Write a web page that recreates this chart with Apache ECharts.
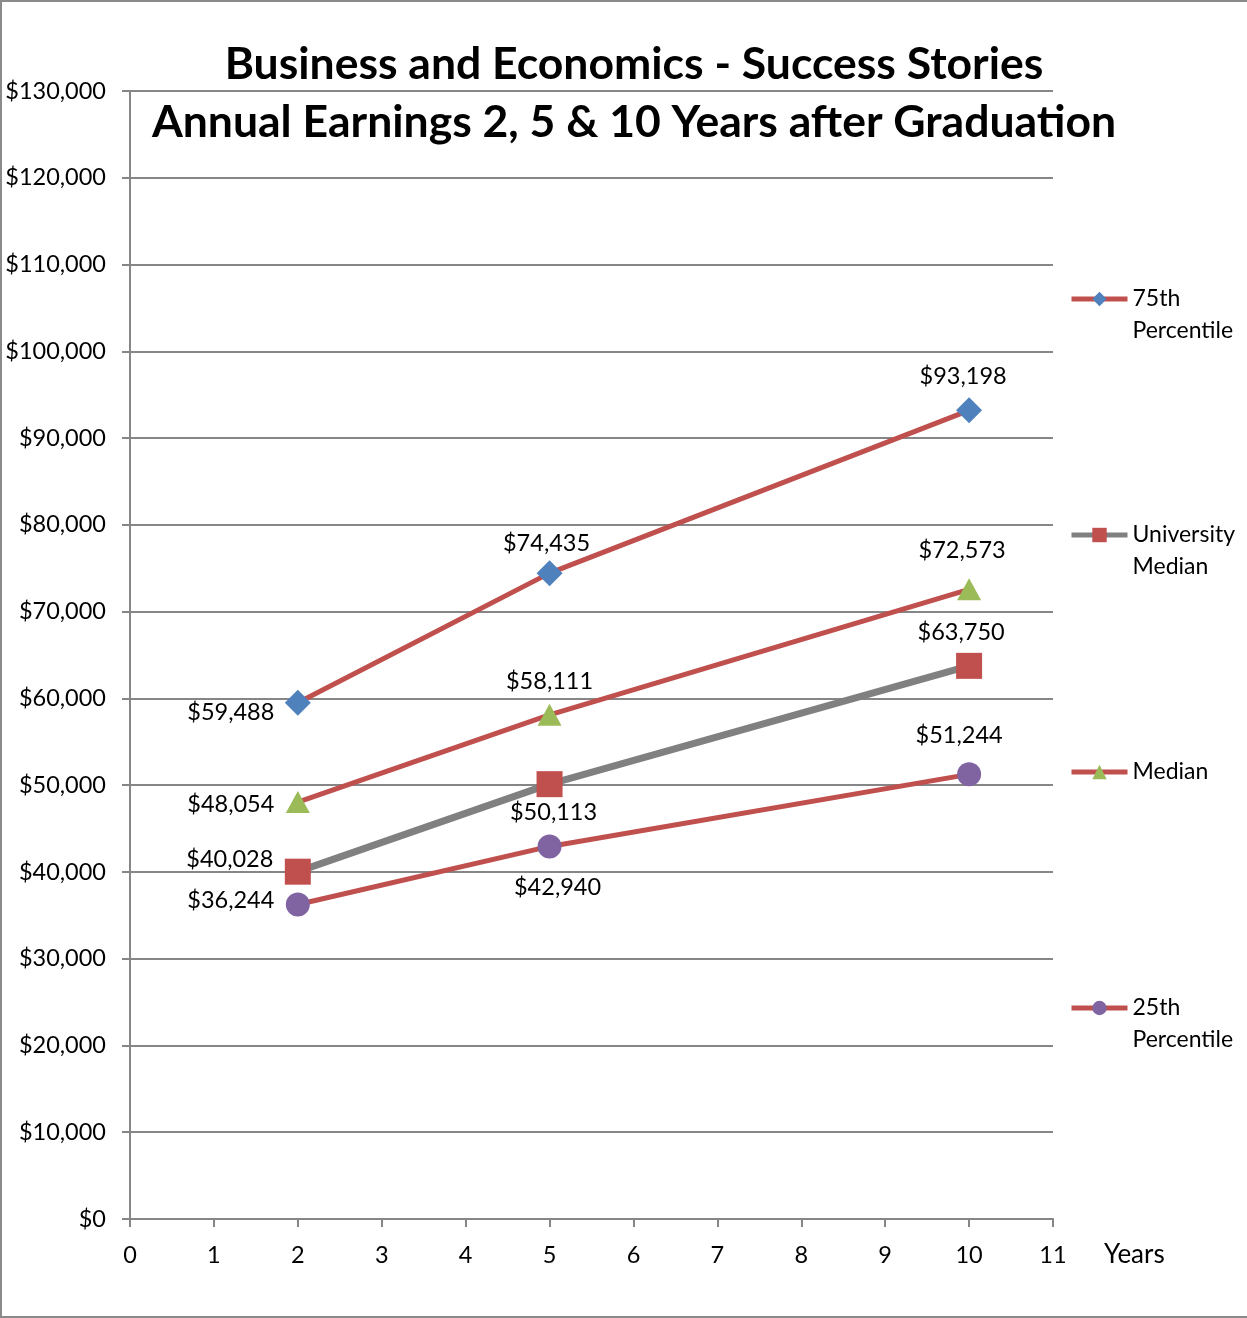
<!DOCTYPE html>
<html><head><meta charset="utf-8">
<script src="https://cdn.jsdelivr.net/npm/echarts@6/dist/echarts.min.js"></script>
<style>
html,body{margin:0;padding:0;background:#fff;}
#wrap{position:relative;width:1247px;height:1318px;box-sizing:border-box;border-left:2px solid #8a8a8a;border-top:2px solid #8a8a8a;border-bottom:2px solid #8a8a8a;}
#main{position:absolute;left:-2px;top:-2px;width:1247px;height:1318px;}
</style></head>
<body><div id="wrap"><div id="main"></div></div>
<script>
const titleLines = ['Business and Economics - Success Stories', 'Annual Earnings 2, 5 & 10 Years after Graduation'];
const years = [2, 5, 10];
const seriesNames = ['75th Percentile', 'University Median', 'Median', '25th Percentile'];
const p75 = [59488, 74435, 93198];
const uniMedian = [40028, 50113, 63750];
const median = [48054, 58111, 72573];
const p25 = [36244, 42940, 51244];
const xAxisName = 'Years';

const FONT = 'Lato, "Open Sans", sans-serif';
const fmt = v => '$' + Math.round(v).toString().replace(/\B(?=(\d{3})+(?!\d))/g, ',');

const styles = [
  {data: p75, line: '#C0504D', width: 5, symbol: 'diamond', size: [26, 26], mark: '#4F81BD',
   offs: [[-67, 10], [-3, -30], [-6, -34]]},
  {data: uniMedian, line: '#808080', width: 7, symbol: 'rect', size: [26, 26], mark: '#C0504D',
   offs: [[-68, -12], [4, 28], [-8, -33]]},
  {data: median, line: '#C0504D', width: 5, symbol: 'triangle', size: [24, 22], mark: '#9BBB59',
   offs: [[-67, 2], [0, -33], [-7, -39]]},
  {data: p25, line: '#C0504D', width: 5, symbol: 'circle', size: [24, 24], mark: '#8064A2',
   offs: [[-67, -4], [8, 41], [-10, -39]]}
];

const series = styles.map((s, i) => ({
  name: seriesNames[i],
  type: 'line',
  symbol: s.symbol,
  symbolSize: s.size,
  z: i === 1 ? 2 : 3,
  lineStyle: {color: s.line, width: s.width},
  itemStyle: {color: s.mark},
  emphasis: {disabled: true},
  animation: false,
  data: years.map((x, j) => ({
    value: [x, s.data[j]],
    label: {show: true, position: 'inside', offset: s.offs[j], formatter: p => fmt(p.value[1]),
      color: '#000', fontSize: 23.5, fontFamily: FONT}
  }))
}));

const iconYs = [299, 535, 772, 1008];
const legendTexts = ['\n75th\nPercentile', '\nUniversity\nMedian', 'Median', '\n25th\nPercentile'];
const legends = seriesNames.map((n, i) => {
  const multi = legendTexts[i].indexOf('\n') >= 0;
  return {
    data: [n],
    orient: 'vertical',
    left: 1069,
    top: iconYs[i] - (multi ? 48 : 16),
    padding: 0,
    itemWidth: 56,
    itemHeight: 18,
    selectedMode: false,
    lineStyle: {width: 5},
    formatter: () => legendTexts[i],
    textStyle: {fontSize: 23, fontFamily: FONT, color: '#000', lineHeight: 32}
  };
});

const chart = echarts.init(document.getElementById('main'), null, {renderer: 'canvas'});
chart.setOption({
  backgroundColor: 'transparent',
  animation: false,
  title: {
    text: titleLines.join('\n'),
    left: 634, top: 36, textAlign: 'center', padding: 0,
    textStyle: {fontSize: 44.5, fontWeight: 'bold', fontFamily: FONT, color: '#000', lineHeight: 58}
  },
  legend: legends,
  grid: {left: 130, right: 194, top: 91, bottom: 99, containLabel: false},
  xAxis: {
    type: 'value', min: 0, max: 11, interval: 1,
    name: xAxisName, nameLocation: 'end', nameGap: 51,
    nameTextStyle: {fontSize: 26, fontFamily: FONT, color: '#000', verticalAlign: 'top', align: 'left', padding: [23, 0, 0, 0]},
    axisLine: {show: true, lineStyle: {color: '#868686', width: 2}},
    axisTick: {show: true, inside: false, length: 8, lineStyle: {color: '#868686', width: 2}},
    axisLabel: {fontSize: 23.5, fontFamily: FONT, color: '#000', margin: 24},
    splitLine: {show: false}
  },
  yAxis: {
    type: 'value', min: 0, max: 130000, interval: 10000,
    axisLine: {show: true, lineStyle: {color: '#868686', width: 2}},
    axisTick: {show: true, inside: false, length: 8, lineStyle: {color: '#868686', width: 2}},
    axisLabel: {fontSize: 23.5, fontFamily: FONT, color: '#000', margin: 24, formatter: v => fmt(v)},
    splitLine: {show: true, lineStyle: {color: '#868686', width: 2}}
  },
  series: series
});
</script></body></html>
